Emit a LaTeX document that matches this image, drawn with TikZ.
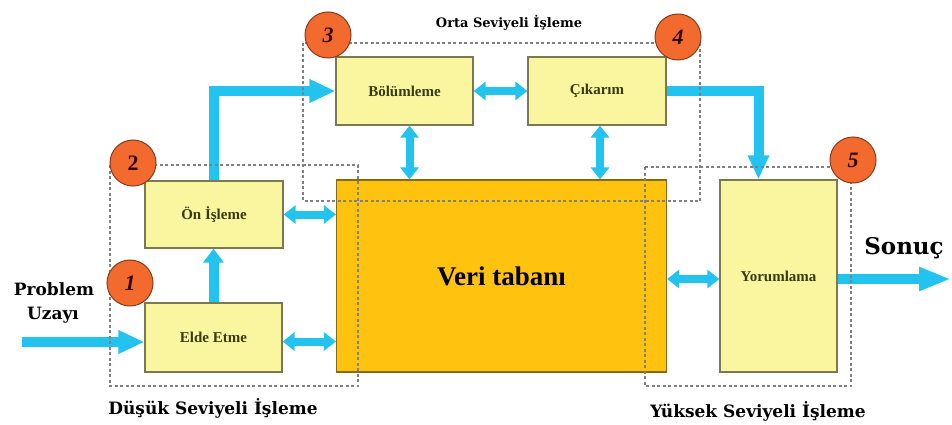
\documentclass[tikz,border=0pt]{standalone}
\usepackage{fontspec}
\setmainfont{Liberation Serif}
\newfontfamily\labfont{DejaVu Serif}
\usetikzlibrary{arrows.meta}
\definecolor{boxfill}{HTML}{FAF6A0}
\definecolor{boxline}{HTML}{7A7A50}
\definecolor{dbfill}{HTML}{FFC20E}
\definecolor{dbline}{HTML}{8A6A10}
\definecolor{numfill}{HTML}{F26A2E}
\definecolor{numline}{HTML}{8A3A1A}
\definecolor{arrcol}{HTML}{22C3EE}
\definecolor{dashcol}{HTML}{808080}
\definecolor{boxtext}{HTML}{3A3A12}
\begin{document}
\begin{tikzpicture}[x=1pt,y=-1pt,
  box/.style={draw=boxline, fill=boxfill, line width=1.2pt, inner sep=0pt,
    font=\fontsize{15}{17}\selectfont\bfseries, text=boxtext},
  dbbox/.style={draw=dbline, fill=dbfill, line width=1.2pt, inner sep=0pt,
    font=\fontsize{27}{30}\selectfont\bfseries, text=black},
  num/.style={circle, draw=numline, fill=numfill, line width=1pt, minimum size=46pt,
    inner sep=0pt, font=\fontsize{22}{24}\selectfont\bfseries\itshape, text=black!80!red},
  lab/.style={font=\labfont\bfseries\fontsize{17}{20}\selectfont, inner sep=0pt},
  blk/.style={draw=arrcol, line width=10pt, line join=miter,
    -{Triangle[width=22pt,length=26pt]}},
  dblk/.style={draw=arrcol, line width=8pt,
    {Triangle[width=18pt,length=12pt]}-{Triangle[width=18pt,length=12pt]}},
  region/.style={draw=dashcol, line width=1.3pt, dash pattern=on 3pt off 2.5pt}
]
\path[use as bounding box] (0,0) rectangle (952,425);

% boxes
\node[box, minimum width=137pt, minimum height=69pt] (elde) at (213.5,337.5) {Elde Etme};
\node[box, minimum width=138pt, minimum height=67pt] (on) at (214,214.5) {Ön İşleme};
\node[box, minimum width=137pt, minimum height=68pt] (bol) at (404.5,91) {Bölümleme};
\node[box, minimum width=138pt, minimum height=68pt] (cik) at (597,91) {Çıkarım};
\node[dbbox, minimum width=330pt, minimum height=192pt] (veri) at (501.5,276) {Veri tabanı};
\node[box, minimum width=117pt, minimum height=192pt] (yor) at (778.5,276) {Yorumlama};

% free ends
\coordinate (in) at (22,342);
\coordinate (out) at (951,279);

% arrows
\draw[blk] (in) -- (in -| elde.west);
\draw[blk, -{Triangle[width=20pt,length=14pt]}] (elde.north) -- (elde.north |- on.south);
\draw[blk] (on.north) |- (bol.west);
\draw[dblk] (on.east) -- (on.east -| veri.west);
\draw[dblk] ([yshift=-4pt]elde.east) -- ([yshift=-4pt]elde.east -| veri.west);
\draw[dblk] (bol.east) -- (cik.west);
\draw[dblk] ([xshift=5pt]bol.south) -- ([xshift=5pt]bol.south |- veri.north);
\draw[dblk] ([xshift=3pt]cik.south) -- ([xshift=3pt]cik.south |- veri.north);
\draw[blk, -{Triangle[width=20pt,length=24pt]}] (cik.east) -| ([xshift=-20pt]yor.north);
\draw[dblk] ([yshift=-3pt]veri.east) -- ([yshift=-3pt]yor.west);
\draw[blk, -{Triangle[width=22pt,length=32pt]}] ([yshift=-3pt]yor.east) -- (out);

% dashed regions
\draw[region] (110,165) rectangle (358,386);
\draw[region] (303,43) rectangle (700,201);
\draw[region] (645,167) rectangle (851,386);

% numbered circles
\node[num] (n1) at (130,283) {1};
\node[num, font=\fontsize{22}{24}\selectfont\bfseries] (n2) at (133,163) {2};
\node[num] (n3) at (328,35) {3};
\node[num] (n4) at (678,37) {4};
\node[num] (n5) at (853,160) {5};

% labels
\node[lab] (lprob) at (54,289) {Problem};
\node[lab] (luz) at (53,315) {Uzayı};
\node[lab, font=\labfont\bfseries\fontsize{23}{26}\selectfont] (lson) at (904,248) {Sonuç};
\node[lab, font=\labfont\bfseries\fontsize{13}{15}\selectfont] (lorta) at (509,23) {Orta Seviyeli İşleme};
\node[lab] (ldus) at (213,408) {Düşük Seviyeli İşleme};
\node[lab] (lyuk) at (758,411) {Yüksek Seviyeli İşleme};
\end{tikzpicture}
\end{document}
